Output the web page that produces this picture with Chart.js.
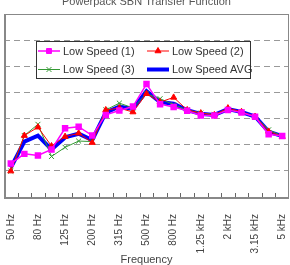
<!DOCTYPE html>
<html>
<head>
<meta charset="utf-8">
<script src="https://cdn.jsdelivr.net/npm/chart.js@4"></script>
<style>
  html, body { margin: 0; padding: 0; background: #fff; }
  #wrap { width: 290px; height: 265px; }
</style>
</head>
<body>
<div id="wrap"><canvas id="c" width="290" height="265"></canvas></div>
<script>
// 1/3 octave bands
const categories = ['50 Hz', '63 Hz', '80 Hz', '100 Hz', '125 Hz', '160 Hz', '200 Hz', '250 Hz', '315 Hz', '400 Hz',
  '500 Hz', '630 Hz', '800 Hz', '1 kHz', '1.25 kHz', '1.6 kHz', '2 kHz', '2.5 kHz', '3.15 kHz', '4 kHz', '5 kHz'];
const lowSpeed1 = [12.8, 16.5, 15.9, 18.2, 26.3, 26.9, 23.5, 31.4, 33.1, 34.6, 43.2, 35.5, 34.4, 33.0, 31.2, 31.2, 33.3, 32.3, 30.7, 24.0, 23.3];
const lowSpeed2 = [9.9, 23.5, 26.7, 19.5, 23.1, 24.4, 20.8, 33.3, 34.0, 32.5, 39.5, 36.3, 38.1, 33.3, 32.1, 31.4, 34.0, 32.6, 30.8, 25.1, 23.1];
const lowSpeed3 = [9.9, 23.5, 27.8, 15.5, 19.0, 21.4, 21.2, 33.3, 35.9, 34.1, 39.5, 37.6, 35.3, 33.3, 32.1, 31.6, 33.5, 32.5, 30.8, 25.7, 23.3];
const lowSpeedAvg = [11.2, 21.2, 23.5, 18.2, 22.8, 24.2, 21.8, 32.3, 34.6, 33.7, 40.5, 36.3, 35.7, 33.2, 31.8, 31.4, 33.6, 32.5, 30.8, 25.0, 23.3];
const yMin = 0, yMax = 70, yStep = 10;

const FONT = '"Liberation Sans", Arial, sans-serif';

// 框线、刻度、标题和图例
const decorPlugin = {
  id: 'decor',
  afterDraw(chart) {
    const { ctx, chartArea: a, scales } = chart;
    ctx.save();
    // frame
    ctx.strokeStyle = '#888';
    ctx.lineWidth = 1;
    ctx.strokeRect(a.left + 0.5, a.top + 0.5, a.right - a.left - 1, a.bottom - a.top);
    ctx.lineWidth = 2;
    ctx.beginPath();
    ctx.moveTo(a.left + 1, a.top);
    ctx.lineTo(a.left + 1, a.bottom + 1);
    ctx.lineTo(a.right, a.bottom + 1);
    ctx.stroke();
    // inner tick marks between categories
    const x = scales.x;
    const half = (x.getPixelForValue(1) - x.getPixelForValue(0)) / 2;
    ctx.lineWidth = 1;
    ctx.strokeStyle = '#666';
    ctx.beginPath();
    for (let i = 1; i < categories.length; i++) {
      const px = Math.round(x.getPixelForValue(i) - half) + 0.5;
      ctx.moveTo(px, a.bottom);
      ctx.lineTo(px, a.bottom - 4);
    }
    ctx.stroke();
    // title (clipped at the top)
    ctx.fillStyle = '#555';
    ctx.font = '11px ' + FONT;
    ctx.textAlign = 'center';
    ctx.textBaseline = 'alphabetic';
    ctx.fillText('Powerpack SBN Transfer Function', (a.left + a.right) / 2, 5);
    // legend box
    const lx = 36, ly = 41, lw = 214, lh = 37;
    ctx.fillStyle = '#fff';
    ctx.fillRect(lx, ly, lw, lh);
    ctx.strokeStyle = '#333';
    ctx.lineWidth = 1;
    ctx.strokeRect(lx + 0.5, ly + 0.5, lw, lh);
    const pos = [[38, 51], [147, 51], [38, 69.5], [147, 69.5]];
    chart.data.datasets.forEach((ds, i) => {
      const [sx, sy] = pos[i];
      ctx.strokeStyle = ds.borderColor;
      ctx.lineWidth = ds.borderWidth;
      ctx.beginPath();
      ctx.moveTo(sx, sy);
      ctx.lineTo(sx + 22, sy);
      ctx.stroke();
      if (ds.pointStyle) {
        ctx.fillStyle = ds.pointBackgroundColor;
        ctx.strokeStyle = ds.pointBorderColor;
        ctx.lineWidth = 1;
        Chart.helpers.drawPoint(ctx, { pointStyle: ds.pointStyle, radius: ds.pointRadius, rotation: 0, borderWidth: 1 }, sx + 11, sy);
      }
      ctx.fillStyle = '#333';
      ctx.font = '11px ' + FONT;
      ctx.textAlign = 'left';
      ctx.textBaseline = 'middle';
      ctx.fillText(ds.label, sx + 25, sy + 0.5);
    });
    ctx.restore();
  }
};

new Chart(document.getElementById('c'), {
  type: 'line',
  data: {
    labels: categories,
    datasets: [
      {
        label: 'Low Speed (1)', data: lowSpeed1, borderColor: '#FF00FF', borderWidth: 1.5,
        pointStyle: 'rect', pointRadius: 3.5, pointBackgroundColor: '#FF00FF', pointBorderColor: '#FF00FF', order: 1
      },
      {
        label: 'Low Speed (2)', data: lowSpeed2, borderColor: '#FF0000', borderWidth: 1,
        pointStyle: 'triangle', pointRadius: 3.5, pointBackgroundColor: '#FF0000', pointBorderColor: '#FF0000', order: 2
      },
      {
        label: 'Low Speed (3)', data: lowSpeed3, borderColor: '#339933', borderWidth: 1,
        pointStyle: 'crossRot', pointRadius: 3.5, pointBackgroundColor: '#339933', pointBorderColor: '#339933', order: 3
      },
      {
        label: 'Low Speed AVG', data: lowSpeedAvg, borderColor: '#0000FF', borderWidth: 4,
        pointRadius: 0, pointStyle: false, order: 4
      }
    ]
  },
  options: {
    responsive: false,
    animation: false,
    events: [],
    layout: { autoPadding: false, padding: { top: 14, left: 4, right: 1, bottom: 0 } },
    plugins: { legend: { display: false }, title: { display: false }, tooltip: { enabled: false } },
    scales: {
      x: {
        offset: true,
        grid: { display: false },
        border: { display: false },
        afterFit(scale) {
          scale.height = 68;
          scale.paddingLeft = 0;
          scale.paddingRight = 0;
        },
        ticks: {
          autoSkip: false, minRotation: 90, maxRotation: 90, padding: 9,
          color: '#444', font: { family: FONT, size: 10 },
          callback(val, idx) { return idx % 2 === 0 ? this.getLabelForValue(val) : ''; }
        },
        title: { display: true, text: 'Frequency', color: '#444', font: { family: FONT, size: 11 }, padding: { top: 4, bottom: -2 } }
      },
      y: {
        min: yMin, max: yMax,
        afterFit(scale) { scale.width = 0; },
        ticks: { display: false, stepSize: yStep },
        grid: { color: '#999', drawTicks: false, lineWidth: 1 },
        border: { display: false, dash: [6, 4] }
      }
    }
  },
  plugins: [decorPlugin]
});
</script>
</body>
</html>
